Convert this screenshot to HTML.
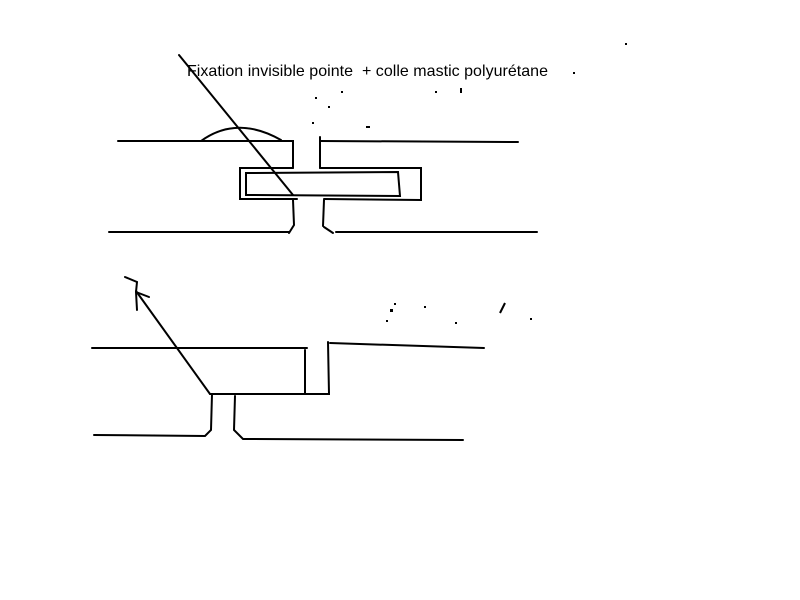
<!DOCTYPE html>
<html><head><style>html,body{margin:0;padding:0;background:#fff;width:800px;height:600px;overflow:hidden}</style></head>
<body>
<svg width="800" height="600" xmlns="http://www.w3.org/2000/svg">
<g fill="none" stroke="#000" stroke-width="2" stroke-linecap="round">
<line x1="179" y1="55" x2="293" y2="195"/>
<path d="M118 141 L293 141 L293 168"/>
<path d="M201 141 Q237 115 281 140"/>
<path d="M320 137 L320 168"/>
<path d="M518 142 L320 141"/>
<path d="M293 168 L240 168 L240 199 L297 199"/>
<path d="M320 168 L421 168 L421 200 L324 199"/>
<path d="M246 173 L398 172 L400 196 L246 195 Z"/>
<path d="M293 200 L294 225 L289 233"/>
<path d="M324 200 L323 226"/>
<path d="M324 227 L333 233"/>
<line x1="109" y1="232" x2="289" y2="232"/>
<line x1="336" y1="232" x2="537" y2="232"/>
<line x1="92" y1="348" x2="307" y2="348"/>
<line x1="305" y1="350" x2="305" y2="393"/>
<path d="M328 342 L329 394 L305 394"/>
<path d="M330 343 L484 348"/>
<line x1="210" y1="394" x2="305" y2="394"/>
<line x1="210" y1="394" x2="136" y2="291"/>
<path d="M125 277 L137 282 L136 292 M136 292 L149 297 M136 292 L137 310"/>
<path d="M212 394 L211 430 L205 436 L94 435"/>
<path d="M235 396 L234 430 L243 439 L463 440"/>
</g>
<g fill="#000">
<rect x="625" y="43" width="2" height="2"/><rect x="573" y="72" width="2" height="2"/>
<rect x="460" y="88" width="2" height="5"/><rect x="435" y="91" width="2" height="2"/>
<rect x="341" y="91" width="2" height="2"/><rect x="315" y="97" width="2" height="2"/>
<rect x="328" y="106" width="2" height="2"/><rect x="312" y="122" width="2" height="2"/>
<rect x="366" y="126" width="4" height="2"/>
<rect x="394" y="303" width="2" height="2"/><rect x="390" y="309" width="3" height="3"/>
<rect x="424" y="306" width="2" height="2"/><rect x="386" y="320" width="2" height="2"/>
<rect x="455" y="322" width="2" height="2"/><rect x="530" y="318" width="2" height="2"/>
<line x1="505" y1="303" x2="500" y2="313" stroke="#000" stroke-width="2"/>
</g>
<text x="187" y="76" font-family="Liberation Sans, sans-serif" font-size="16" textLength="361" fill="#000">Fixation invisible pointe &#160;+ colle mastic polyurétane</text>
</svg>
</body></html>
